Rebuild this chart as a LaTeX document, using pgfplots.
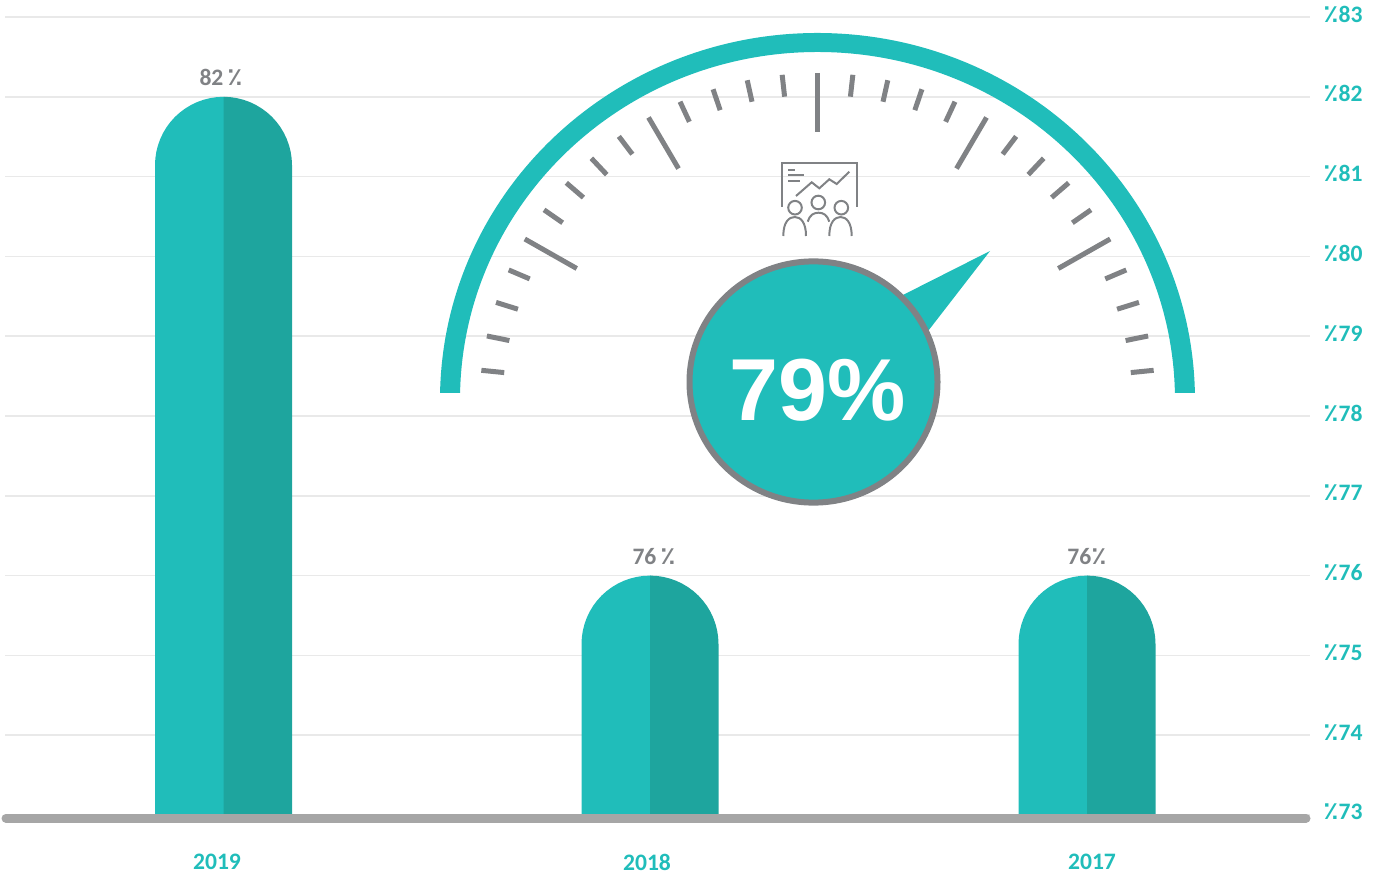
\documentclass[border=0pt]{standalone}
\usepackage{pgfplots}
\usepackage{pgfplotstable}
\usepackage{fontspec}
\pgfplotsset{compat=1.18}
\setmainfont{Carlito}
\newfontfamily\arabicfont[Script=Arabic,Scale=1.05]{DejaVu Sans}
\newfontfamily\bigfont{Liberation Sans}
\newcommand\pc{{\arabicfont\symbol{"066A}}}
\definecolor{teal1}{HTML}{20BDBA}
\definecolor{teal2}{HTML}{1EA59E}
\definecolor{gridc}{HTML}{E9E9E9}
\definecolor{basec}{HTML}{A6A6A6}
\definecolor{grayc}{HTML}{808285}
% half dome profile: horizontal and vertical offsets from the bar's top centre (reference pixels / y units)
\pgfplotstableread{
dx dy
68.5 100
68.5 0.858
68.17 0.774
67.18 0.691
65.55 0.609
63.29 0.530
60.41 0.4535
56.96 0.381
52.95 0.3137
48.44 0.251
43.46 0.1948
38.06 0.145
32.29 0.1013
26.21 0.0653
19.89 0.0370
13.36 0.0165
6.71 0.0041
0 0
0 100
}\dome
\begin{document}
\begin{tikzpicture}[x=0.5pt,y=0.5pt]
\path[use as bounding box] (-5,-64) rectangle (1376,815);
\begin{axis}[
  at={(0,0)},anchor=south west,
  scale only axis,width=652.5pt,height=399pt,
  xmin=5,xmax=1310,ymin=73,ymax=83,
  clip=false,
  axis line style={draw=none},
  tick style={draw=none},
  ymajorgrids,
  grid style={gridc,line width=0.75pt},
  ytick={73,74,75,76,77,78,79,80,81,82,83},
  yticklabels={\pc73,\pc74,\pc75,\pc76,\pc77,\pc78,\pc79,\pc80,\pc81,\pc82,\pc83},
  yticklabel pos=right,
  yticklabel style={anchor=west,xshift=6.5pt,yshift=1.5pt,text=teal1,font=\bfseries\fontsize{11.8}{13}\selectfont,inner sep=0pt},
  xtick={217,647,1092},
  xticklabels={2019,2018,2017},
  xticklabel style={text=teal1,font=\bfseries\fontsize{11.8}{13}\selectfont,anchor=center,yshift=-23.5pt},
]
\addplot[fill=teal1,draw=none] table[x expr={223.5-\thisrow{dx}+(\thisrow{dx}==0)},y expr={max(82-\thisrow{dy},73)}]{\dome}--cycle;
\addplot[fill=teal2,draw=none] table[x expr=223.5+\thisrow{dx},y expr={max(82-\thisrow{dy},73)}]{\dome}--cycle;
\addplot[fill=teal1,draw=none] table[x expr={650-\thisrow{dx}+(\thisrow{dx}==0)},y expr={max(76-\thisrow{dy},73)}]{\dome}--cycle;
\addplot[fill=teal2,draw=none] table[x expr=650+\thisrow{dx},y expr={max(76-\thisrow{dy},73)}]{\dome}--cycle;
\addplot[fill=teal1,draw=none] table[x expr={1087-\thisrow{dx}+(\thisrow{dx}==0)},y expr={max(76-\thisrow{dy},73)}]{\dome}--cycle;
\addplot[fill=teal2,draw=none] table[x expr=1087+\thisrow{dx},y expr={max(76-\thisrow{dy},73)}]{\dome}--cycle;
\addplot[basec,line width=4.5pt,line cap=round] coordinates {(6,72.96) (1306,72.96)};
\addplot[draw=none,mark=none,point meta=explicit symbolic,nodes near coords,
  nodes near coords style={anchor=south,text=grayc,font=\bfseries\fontsize{11.8}{13}\selectfont,inner sep=0pt,yshift=5.5pt}]
  coordinates {(221,82)[82\,\pc] (654,76)[76\,\pc] (1087,76)[76\pc]};
\end{axis}
% gauge, in reference pixel coordinates
\begin{scope}[x=0.5pt,y=-0.5pt,shift={(-2.5pt,407.5pt)}]
  \fill[teal1] (440.06,393) arc[start angle=178.91,end angle=1.09,x radius=188.75pt,y radius=183.5pt] -- (1174.9,393)
     arc[start angle=1.15,end angle=178.85,x radius=178.75pt,y radius=174pt] -- cycle;
  \foreach \a in {-84,-78,-72,-66,-54,-48,-42,-36,-24,-18,-12,-6,6,12,18,24,36,42,48,54,66,72,78,84}
    \draw[grayc,line width=2.5pt] ({817.5+338*sin(\a)},{405-332*cos(\a)}) -- ({817.5+315*sin(\a)},{405-310*cos(\a)});
  \foreach \a in {-60,-30,0,30,60}
    \draw[grayc,line width=2.5pt] ({817.5+338*sin(\a)},{405-332*cos(\a)}) -- ({817.5+278*sin(\a)},{405-273*cos(\a)});
  % pointer and disc
  \fill[teal1] (990,251) -- (895,299) -- (925,335) -- cycle;
  \fill[teal1,draw=grayc,line width=3pt] (813.5,382) ellipse[x radius=62pt,y radius=60.3pt];
  \node[text=white,font=\bigfont\bfseries\fontsize{44}{46}\selectfont] at (818,390) {79\%};
  % icon
  \begin{scope}[grayc,line width=1pt]
    \draw (781.7,207) -- (781.7,162.7) -- (857.3,162.7) -- (857.3,207);
    \draw (788.3,170) -- (795,170) (788,175) -- (804.3,175) (788,180.7) -- (800,180.7);
    \draw (796,196) -- (811.7,182.3) -- (819.3,188.3) -- (829.3,179.3) -- (836.7,184) -- (849.3,171.7);
    \draw (795,207.7) circle[radius=3.4pt] (818.3,202.5) circle[radius=3.4pt] (841.3,207.7) circle[radius=3.4pt];
    \draw (783.3,236) .. controls (783.3,222) and (789,217) .. (794.7,217) .. controls (800.4,217) and (806,222) .. (806,236);
    \draw (829.3,236) .. controls (829.3,222) and (835,217) .. (840.5,217) .. controls (846,217) and (851.7,222) .. (851.7,236);
    \draw (807.7,221.7) .. controls (809.5,215) and (814,212.7) .. (818.5,212.7) .. controls (823,212.7) and (827.5,215) .. (829.3,221.7);
  \end{scope}
\end{scope}
\end{tikzpicture}
\end{document}
